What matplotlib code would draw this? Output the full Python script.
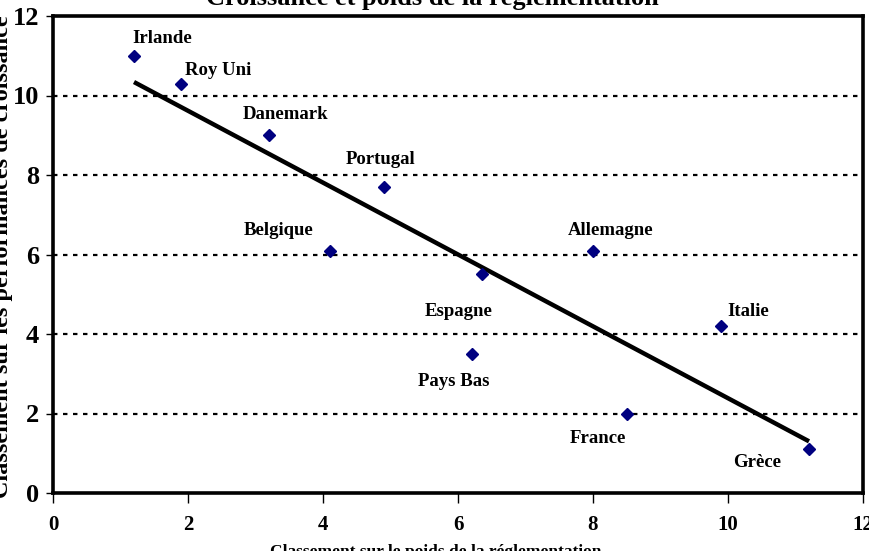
import numpy as np
import matplotlib
matplotlib.use("Agg")
import matplotlib.pyplot as plt

# Countries: regulation-burden rank (x) vs growth-performance rank (y)
countries = ["Irlande", "Roy Uni", "Danemark", "Portugal", "Belgique", "Espagne",
             "Allemagne", "Pays Bas", "Italie", "France", "Grèce"]
reglementation = [1.2, 1.9, 3.2, 4.9, 4.1, 6.35, 8.0, 6.2, 9.9, 8.5, 11.2]
croissance = [11.0, 10.3, 9.0, 7.7, 6.1, 5.5, 6.1, 3.5, 4.2, 2.0, 1.1]

x_ticks = [0, 2, 4, 6, 8, 10, 12]
y_ticks = [0, 2, 4, 6, 8, 10, 12]

title = "Croissance et poids de la réglementation"
x_label = "Classement sur le poids de la réglementation"
y_label = "Classement sur les performances de croissance"

# Label offsets (pixels) relative to each marker
label_offsets = {
    "Irlande": (28, 17), "Roy Uni": (37, 13), "Danemark": (17, 21),
    "Portugal": (-3, 27), "Belgique": (-51, 20), "Allemagne": (18, 20),
    "Espagne": (-23, -37), "Pays Bas": (-18, -28), "Italie": (27, 15),
    "France": (-29, -25), "Grèce": (-52, -13),
}

W, H = 869, 551
fig = plt.figure(figsize=(W / 100, H / 100), dpi=100)
ax = fig.add_axes([53 / W, 1 - 493 / H, (863 - 53) / W, (493 - 16) / H])

serif = ["Liberation Serif", "DejaVu Serif"]

ax.set_xlim(0, 12)
ax.set_ylim(0, 12)

# Horizontal dotted gridlines
for yv in y_ticks[1:-1]:
    ax.axhline(yv, color="black", lw=1.6, linestyle=(0, (2, 2.5)), zorder=1)

# Linear trend line across the data range
slope, intercept = np.polyfit(reglementation, croissance, 1)
xs = np.array([min(reglementation), max(reglementation)])
ax.plot(xs, slope * xs + intercept, color="black", lw=3.2, solid_capstyle="butt", zorder=2)

ax.plot(reglementation, croissance, linestyle="none", marker="D", markersize=6.6,
        color="#000080", markeredgecolor="#000080", zorder=3)

px2pt = 72 / 100
for name, xv, yv in zip(countries, reglementation, croissance):
    dx, dy = label_offsets[name]
    ax.annotate(name, (xv, yv), xytext=(dx * px2pt, dy * px2pt), textcoords="offset points",
                ha="center", va="center", fontsize=13.5, fontweight="bold",
                family=serif, color="black", zorder=4)

for s in ax.spines.values():
    s.set_linewidth(2.6)
    s.set_color("black")

ax.set_xticks(x_ticks)
ax.set_yticks(y_ticks)
ax.tick_params(axis="y", direction="out", length=5, width=1, pad=5, labelsize=19)
ax.tick_params(axis="x", direction="out", length=7, width=1, pad=9, labelsize=15)
for lab in ax.get_xticklabels() + ax.get_yticklabels():
    lab.set_fontweight("bold")
    lab.set_family(serif)

fig.text(432 / W, 1 - 5 / H, title, ha="center", va="baseline", fontsize=19,
         fontweight="bold", family=serif)
fig.text(436 / W, 1 - 544 / H, x_label, ha="center", va="top", fontsize=12.5,
         fontweight="bold", family=serif)
fig.text(3 / W, 1 - 257 / H, y_label, ha="center", va="center", rotation=90,
         fontsize=17.5, fontweight="bold", family=serif)

fig.savefig("out.png", dpi=100)
